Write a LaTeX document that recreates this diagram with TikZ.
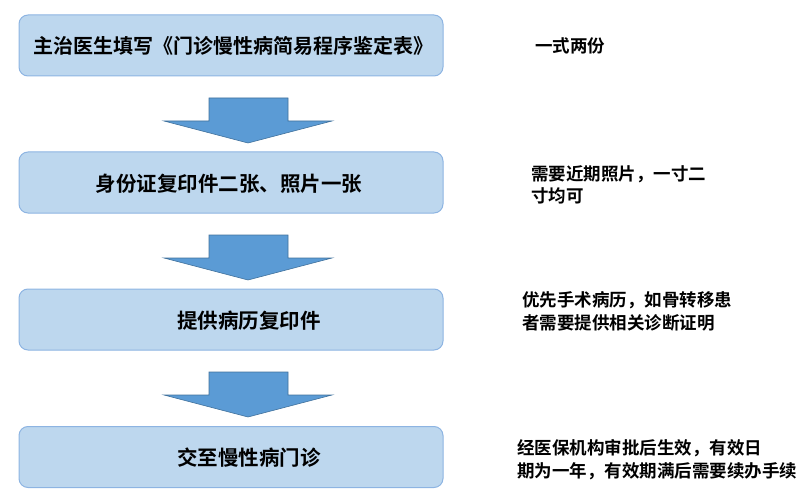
\documentclass[tikz,border=0pt]{standalone}
\usepackage{fontspec}
\setmainfont{Noto Sans CJK SC}
\newfontfamily\cjk{Noto Sans CJK SC Bold}
\usepackage{xcolor}
\definecolor{boxfill}{RGB}{189,215,238}
\definecolor{boxline}{RGB}{141,180,226}
\definecolor{arrfill}{RGB}{91,155,213}
\definecolor{arrline}{RGB}{65,113,156}
\tikzset{
  stepbox/.style={rectangle,rounded corners=9pt,draw=boxline,fill=boxfill,line width=1pt,
    minimum width=424pt,minimum height=61pt,inner sep=0pt},
  boxtext/.style={font=\cjk\fontsize{20.5}{24}\selectfont,inner sep=0pt},
  note/.style={font=\cjk\fontsize{17.5}{22.5}\selectfont,anchor=west,align=left,inner sep=0pt},
  blockarrow/.style={fill=arrfill,draw=arrline,line width=0.6pt,line join=miter},
}

\begin{document}
\begin{tikzpicture}[x=1pt,y=-1pt]
  \useasboundingbox (0,0) rectangle (811,500);
  % boxes
  \node[stepbox] (b1) at (231,45.5) {};
  \node[stepbox] (b2) at (231,182.5) {};
  \node[stepbox] (b3) at (231,319.5) {};
  \node[stepbox] (b4) at (231,457) {};
  \node[boxtext,font=\cjk\fontsize{20}{23}\selectfont] (t1) at (233,46) {主治医生填写《门诊慢性病简易程序鉴定表》};
  \node[boxtext] (t2) at (229,184) {身份证复印件二张、照片一张};
  \node[boxtext] (t3) at (249,321) {提供病历复印件};
  \node[boxtext] (t4) at (249,458) {交至慢性病门诊};
  % block arrows between boxes
  \foreach \y in {98,235,372} {
    \draw[blockarrow] (209,\y) -- (288,\y) -- (288,\y+23) -- (332,\y+23)
      -- (248,\y+45) -- (164,\y+23) -- (209,\y+23) -- cycle;
  }
  % notes
  \node[note] (n1) at (535,46) {一式两份};
  \node[note] (n2) at (531,185) {需要近期照片，一寸二\\寸均可};
  \node[note] (n3) at (522,311.5) {优先手术病历，如骨转移患\\者需要提供相关诊断证明};
  \node[note] (n4) at (517,459.5) {经医保机构审批后生效，有效日\\期为一年，有效期满后需要续办手续};
\end{tikzpicture}
\end{document}
